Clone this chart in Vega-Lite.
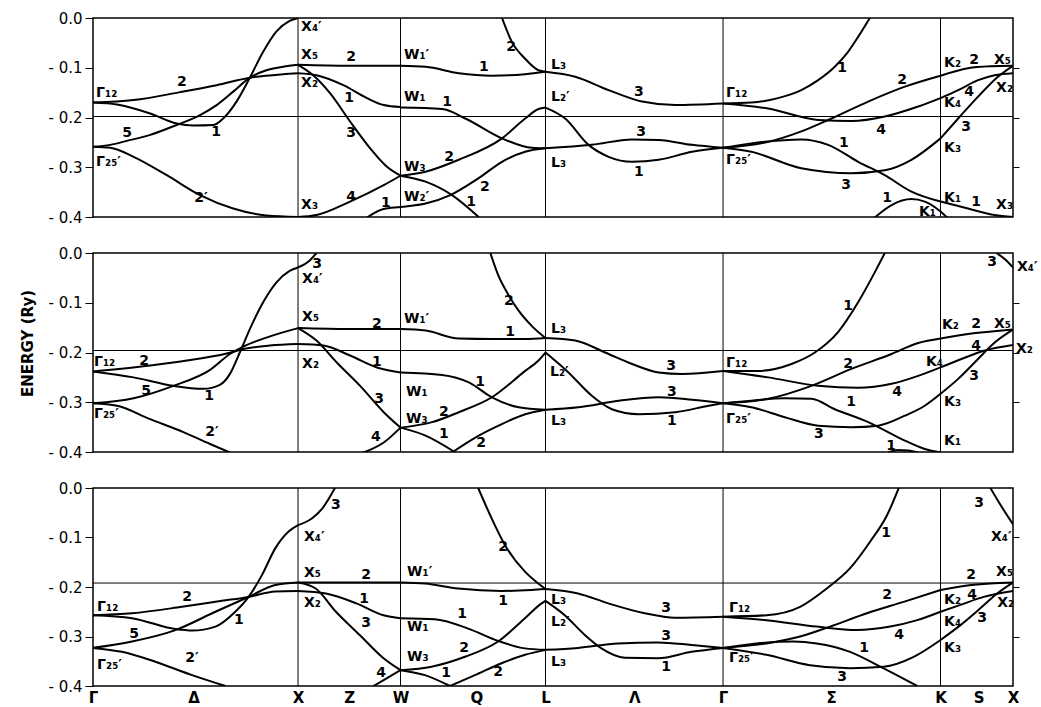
{
"$schema":"https://vega.github.io/schema/vega-lite/v6.json",
"background":"white",
"padding":{"left":20,"top":10,"right":0,"bottom":0},
"config":{"view":{"stroke":"black","strokeWidth":1.5},"concat":{"spacing":19}},
"datasets":{
"vl":[{"k":1},{"k":1.5},{"k":2.2071},{"k":3.0731},{"k":4.1338}],
"ef":[{"p":1,"e":-0.198},{"p":2,"e":-0.196},{"p":3,"e":-0.192}],
"bands":[
{"p":1,"b":"a","k":0,"e":-0.170},{"p":1,"b":"a","k":0.198,"e":-0.165},{"p":1,"b":"a","k":0.425,"e":-0.149},{"p":1,"b":"a","k":0.603,"e":-0.135},{"p":1,"b":"a","k":0.765,"e":-0.120},{"p":1,"b":"a","k":0.927,"e":-0.113},{"p":1,"b":"a","k":1,"e":-0.111},
{"p":1,"b":"b","k":0,"e":-0.170},{"p":1,"b":"b","k":0.117,"e":-0.174},{"p":1,"b":"b","k":0.279,"e":-0.192},{"p":1,"b":"b","k":0.408,"e":-0.212},{"p":1,"b":"b","k":0.489,"e":-0.216},{"p":1,"b":"b","k":0.587,"e":-0.215},{"p":1,"b":"b","k":0.635,"e":-0.202},{"p":1,"b":"b","k":0.700,"e":-0.168},{"p":1,"b":"b","k":0.765,"e":-0.120},{"p":1,"b":"b","k":0.830,"e":-0.068},{"p":1,"b":"b","k":0.895,"e":-0.027},{"p":1,"b":"b","k":0.959,"e":-0.006},{"p":1,"b":"b","k":1,"e":0},
{"p":1,"b":"c","k":0,"e":-0.259},{"p":1,"b":"c","k":0.084,"e":-0.255},{"p":1,"b":"c","k":0.165,"e":-0.247},{"p":1,"b":"c","k":0.279,"e":-0.235},{"p":1,"b":"c","k":0.408,"e":-0.215},{"p":1,"b":"c","k":0.522,"e":-0.195},{"p":1,"b":"c","k":0.603,"e":-0.175},{"p":1,"b":"c","k":0.684,"e":-0.148},{"p":1,"b":"c","k":0.765,"e":-0.120},{"p":1,"b":"c","k":0.846,"e":-0.105},{"p":1,"b":"c","k":0.927,"e":-0.098},{"p":1,"b":"c","k":1,"e":-0.094},
{"p":1,"b":"d","k":0,"e":-0.259},{"p":1,"b":"d","k":0.084,"e":-0.261},{"p":1,"b":"d","k":0.198,"e":-0.279},{"p":1,"b":"d","k":0.360,"e":-0.316},{"p":1,"b":"d","k":0.522,"e":-0.356},{"p":1,"b":"d","k":0.684,"e":-0.383},{"p":1,"b":"d","k":0.846,"e":-0.397},{"p":1,"b":"d","k":1,"e":-0.400},
{"p":1,"b":"e","k":1,"e":-0.094},{"p":1,"b":"e","k":1.25,"e":-0.096},{"p":1,"b":"e","k":1.5,"e":-0.096},
{"p":1,"b":"f","k":1,"e":-0.111},{"p":1,"b":"f","k":1.090,"e":-0.115},{"p":1,"b":"f","k":1.221,"e":-0.135},{"p":1,"b":"f","k":1.336,"e":-0.161},{"p":1,"b":"f","k":1.418,"e":-0.175},{"p":1,"b":"f","k":1.5,"e":-0.179},
{"p":1,"b":"g","k":1,"e":-0.094},{"p":1,"b":"g","k":1.074,"e":-0.115},{"p":1,"b":"g","k":1.156,"e":-0.151},{"p":1,"b":"g","k":1.254,"e":-0.208},{"p":1,"b":"g","k":1.352,"e":-0.262},{"p":1,"b":"g","k":1.434,"e":-0.299},{"p":1,"b":"g","k":1.5,"e":-0.317},
{"p":1,"b":"h","k":1,"e":-0.400},{"p":1,"b":"h","k":1.090,"e":-0.396},{"p":1,"b":"h","k":1.254,"e":-0.369},{"p":1,"b":"h","k":1.418,"e":-0.336},{"p":1,"b":"h","k":1.5,"e":-0.317},
{"p":1,"b":"i","k":1.336,"e":-0.401},{"p":1,"b":"i","k":1.418,"e":-0.384},{"p":1,"b":"i","k":1.5,"e":-0.380},{"p":1,"b":"i","k":1.622,"e":-0.373},{"p":1,"b":"i","k":1.743,"e":-0.356},{"p":1,"b":"i","k":1.881,"e":-0.322},{"p":1,"b":"i","k":1.995,"e":-0.289},{"p":1,"b":"i","k":2.108,"e":-0.269},{"p":1,"b":"i","k":2.207,"e":-0.262},
{"p":1,"b":"j","k":1.5,"e":-0.096},{"p":1,"b":"j","k":1.622,"e":-0.098},{"p":1,"b":"j","k":1.784,"e":-0.111},{"p":1,"b":"j","k":1.946,"e":-0.116},{"p":1,"b":"j","k":2.108,"e":-0.113},{"p":1,"b":"j","k":2.207,"e":-0.108},
{"p":1,"b":"k","k":1.995,"e":0},{"p":1,"b":"k","k":2.043,"e":-0.048},{"p":1,"b":"k","k":2.108,"e":-0.082},{"p":1,"b":"k","k":2.173,"e":-0.105},{"p":1,"b":"k","k":2.207,"e":-0.108},
{"p":1,"b":"l","k":1.5,"e":-0.180},{"p":1,"b":"l","k":1.703,"e":-0.183},{"p":1,"b":"l","k":1.816,"e":-0.202},{"p":1,"b":"l","k":1.995,"e":-0.242},{"p":1,"b":"l","k":2.141,"e":-0.261},{"p":1,"b":"l","k":2.207,"e":-0.262},
{"p":1,"b":"m","k":1.5,"e":-0.317},{"p":1,"b":"m","k":1.622,"e":-0.309},{"p":1,"b":"m","k":1.784,"e":-0.285},{"p":1,"b":"m","k":1.995,"e":-0.242},{"p":1,"b":"m","k":2.108,"e":-0.202},{"p":1,"b":"m","k":2.173,"e":-0.183},{"p":1,"b":"m","k":2.207,"e":-0.180},
{"p":1,"b":"n","k":1.5,"e":-0.317},{"p":1,"b":"n","k":1.622,"e":-0.329},{"p":1,"b":"n","k":1.751,"e":-0.356},{"p":1,"b":"n","k":1.881,"e":-0.400},
{"p":1,"b":"o","k":2.207,"e":-0.108},{"p":1,"b":"o","k":2.352,"e":-0.118},{"p":1,"b":"o","k":2.515,"e":-0.145},{"p":1,"b":"o","k":2.678,"e":-0.168},{"p":1,"b":"o","k":2.840,"e":-0.175},{"p":1,"b":"o","k":3.073,"e":-0.172},
{"p":1,"b":"q","k":2.207,"e":-0.180},{"p":1,"b":"q","k":2.303,"e":-0.202},{"p":1,"b":"q","k":2.417,"e":-0.255},{"p":1,"b":"q","k":2.515,"e":-0.279},{"p":1,"b":"q","k":2.629,"e":-0.289},{"p":1,"b":"q","k":2.759,"e":-0.285},{"p":1,"b":"q","k":2.922,"e":-0.269},{"p":1,"b":"q","k":3.073,"e":-0.261},
{"p":1,"b":"r","k":2.207,"e":-0.262},{"p":1,"b":"r","k":2.433,"e":-0.255},{"p":1,"b":"r","k":2.629,"e":-0.244},{"p":1,"b":"r","k":2.759,"e":-0.245},{"p":1,"b":"r","k":2.922,"e":-0.255},{"p":1,"b":"r","k":3.073,"e":-0.261},
{"p":1,"b":"s","k":3.073,"e":-0.172},{"p":1,"b":"s","k":3.211,"e":-0.170},{"p":1,"b":"s","k":3.341,"e":-0.161},{"p":1,"b":"s","k":3.455,"e":-0.145},{"p":1,"b":"s","k":3.537,"e":-0.125},{"p":1,"b":"s","k":3.618,"e":-0.098},{"p":1,"b":"s","k":3.683,"e":-0.068},{"p":1,"b":"s","k":3.732,"e":-0.038},{"p":1,"b":"s","k":3.789,"e":0},
{"p":1,"b":"t","k":3.073,"e":-0.172},{"p":1,"b":"t","k":3.293,"e":-0.182},{"p":1,"b":"t","k":3.537,"e":-0.205},{"p":1,"b":"t","k":3.699,"e":-0.207},{"p":1,"b":"t","k":3.862,"e":-0.198},{"p":1,"b":"t","k":4.025,"e":-0.178},{"p":1,"b":"t","k":4.134,"e":-0.161},
{"p":1,"b":"u","k":3.073,"e":-0.261},{"p":1,"b":"u","k":3.293,"e":-0.249},{"p":1,"b":"u","k":3.455,"e":-0.228},{"p":1,"b":"u","k":3.602,"e":-0.202},{"p":1,"b":"u","k":3.781,"e":-0.168},{"p":1,"b":"u","k":3.960,"e":-0.138},{"p":1,"b":"u","k":4.134,"e":-0.116},
{"p":1,"b":"v","k":3.073,"e":-0.261},{"p":1,"b":"v","k":3.211,"e":-0.252},{"p":1,"b":"v","k":3.455,"e":-0.244},{"p":1,"b":"v","k":3.586,"e":-0.255},{"p":1,"b":"v","k":3.732,"e":-0.289},{"p":1,"b":"v","k":3.862,"e":-0.316},{"p":1,"b":"v","k":3.992,"e":-0.349},{"p":1,"b":"v","k":4.134,"e":-0.369},
{"p":1,"b":"w","k":3.073,"e":-0.261},{"p":1,"b":"w","k":3.211,"e":-0.269},{"p":1,"b":"w","k":3.455,"e":-0.302},{"p":1,"b":"w","k":3.699,"e":-0.312},{"p":1,"b":"w","k":3.862,"e":-0.306},{"p":1,"b":"w","k":3.992,"e":-0.285},{"p":1,"b":"w","k":4.134,"e":-0.242},
{"p":1,"b":"x","k":3.813,"e":-0.401},{"p":1,"b":"x","k":3.895,"e":-0.376},{"p":1,"b":"x","k":3.992,"e":-0.364},{"p":1,"b":"x","k":4.057,"e":-0.369},{"p":1,"b":"x","k":4.134,"e":-0.389},{"p":1,"b":"x","k":4.171,"e":-0.403},
{"p":1,"b":"y","k":4.134,"e":-0.116},{"p":1,"b":"y","k":4.268,"e":-0.101},{"p":1,"b":"y","k":4.382,"e":-0.097},{"p":1,"b":"y","k":4.487,"e":-0.096},
{"p":1,"b":"z","k":4.134,"e":-0.161},{"p":1,"b":"z","k":4.220,"e":-0.145},{"p":1,"b":"z","k":4.317,"e":-0.125},{"p":1,"b":"z","k":4.398,"e":-0.115},{"p":1,"b":"z","k":4.487,"e":-0.111},
{"p":1,"b":"aa","k":4.134,"e":-0.242},{"p":1,"b":"aa","k":4.220,"e":-0.202},{"p":1,"b":"aa","k":4.317,"e":-0.158},{"p":1,"b":"aa","k":4.414,"e":-0.118},{"p":1,"b":"aa","k":4.487,"e":-0.096},
{"p":1,"b":"ab","k":4.134,"e":-0.369},{"p":1,"b":"ab","k":4.268,"e":-0.383},{"p":1,"b":"ab","k":4.398,"e":-0.396},{"p":1,"b":"ab","k":4.487,"e":-0.400},

{"p":2,"b":"a","k":0,"e":-0.238},{"p":2,"b":"a","k":0.279,"e":-0.226},{"p":2,"b":"a","k":0.522,"e":-0.212},{"p":2,"b":"a","k":0.652,"e":-0.202},{"p":2,"b":"a","k":0.733,"e":-0.193},{"p":2,"b":"a","k":0.862,"e":-0.186},{"p":2,"b":"a","k":1,"e":-0.183},
{"p":2,"b":"b","k":0,"e":-0.238},{"p":2,"b":"b","k":0.198,"e":-0.250},{"p":2,"b":"b","k":0.392,"e":-0.267},{"p":2,"b":"b","k":0.538,"e":-0.273},{"p":2,"b":"b","k":0.619,"e":-0.265},{"p":2,"b":"b","k":0.668,"e":-0.243},{"p":2,"b":"b","k":0.716,"e":-0.200},{"p":2,"b":"b","k":0.765,"e":-0.153},{"p":2,"b":"b","k":0.830,"e":-0.099},{"p":2,"b":"b","k":0.895,"e":-0.059},{"p":2,"b":"b","k":0.959,"e":-0.036},{"p":2,"b":"b","k":1,"e":-0.029},
{"p":2,"b":"c","k":0,"e":-0.302},{"p":2,"b":"c","k":0.198,"e":-0.292},{"p":2,"b":"c","k":0.392,"e":-0.267},{"p":2,"b":"c","k":0.571,"e":-0.235},{"p":2,"b":"c","k":0.668,"e":-0.203},{"p":2,"b":"c","k":0.733,"e":-0.188},{"p":2,"b":"c","k":0.846,"e":-0.170},{"p":2,"b":"c","k":1,"e":-0.151},
{"p":2,"b":"d","k":0,"e":-0.302},{"p":2,"b":"d","k":0.117,"e":-0.307},{"p":2,"b":"d","k":0.279,"e":-0.334},{"p":2,"b":"d","k":0.441,"e":-0.360},{"p":2,"b":"d","k":0.571,"e":-0.384},{"p":2,"b":"d","k":0.668,"e":-0.401},
{"p":2,"b":"e","k":1,"e":-0.029},{"p":2,"b":"e","k":1.057,"e":-0.015},{"p":2,"b":"e","k":1.090,"e":0},
{"p":2,"b":"f","k":1,"e":-0.151},{"p":2,"b":"f","k":1.25,"e":-0.153},{"p":2,"b":"f","k":1.5,"e":-0.153},
{"p":2,"b":"g","k":1,"e":-0.183},{"p":2,"b":"g","k":1.123,"e":-0.186},{"p":2,"b":"g","k":1.254,"e":-0.206},{"p":2,"b":"g","k":1.385,"e":-0.230},{"p":2,"b":"g","k":1.5,"e":-0.240},
{"p":2,"b":"h","k":1,"e":-0.151},{"p":2,"b":"h","k":1.090,"e":-0.176},{"p":2,"b":"h","k":1.189,"e":-0.220},{"p":2,"b":"h","k":1.303,"e":-0.267},{"p":2,"b":"h","k":1.418,"e":-0.320},{"p":2,"b":"h","k":1.5,"e":-0.351},
{"p":2,"b":"i","k":1.320,"e":-0.401},{"p":2,"b":"i","k":1.418,"e":-0.381},{"p":2,"b":"i","k":1.5,"e":-0.351},
{"p":2,"b":"j","k":1.5,"e":-0.153},{"p":2,"b":"j","k":1.622,"e":-0.156},{"p":2,"b":"j","k":1.784,"e":-0.172},{"p":2,"b":"j","k":1.946,"e":-0.173},{"p":2,"b":"j","k":2.108,"e":-0.173},{"p":2,"b":"j","k":2.207,"e":-0.171},
{"p":2,"b":"k","k":1.938,"e":0},{"p":2,"b":"k","k":1.978,"e":-0.046},{"p":2,"b":"k","k":2.019,"e":-0.079},{"p":2,"b":"k","k":2.076,"e":-0.116},{"p":2,"b":"k","k":2.141,"e":-0.147},{"p":2,"b":"k","k":2.207,"e":-0.171},
{"p":2,"b":"l","k":1.5,"e":-0.240},{"p":2,"b":"l","k":1.703,"e":-0.245},{"p":2,"b":"l","k":1.833,"e":-0.260},{"p":2,"b":"l","k":1.946,"e":-0.290},{"p":2,"b":"l","k":2.076,"e":-0.310},{"p":2,"b":"l","k":2.207,"e":-0.315},
{"p":2,"b":"m","k":1.5,"e":-0.351},{"p":2,"b":"m","k":1.654,"e":-0.340},{"p":2,"b":"m","k":1.784,"e":-0.320},{"p":2,"b":"m","k":1.946,"e":-0.290},{"p":2,"b":"m","k":2.108,"e":-0.237},{"p":2,"b":"m","k":2.173,"e":-0.216},{"p":2,"b":"m","k":2.207,"e":-0.200},
{"p":2,"b":"n","k":1.5,"e":-0.351},{"p":2,"b":"n","k":1.622,"e":-0.367},{"p":2,"b":"n","k":1.768,"e":-0.401},
{"p":2,"b":"o","k":1.751,"e":-0.401},{"p":2,"b":"o","k":1.865,"e":-0.371},{"p":2,"b":"o","k":1.978,"e":-0.347},{"p":2,"b":"o","k":2.108,"e":-0.324},{"p":2,"b":"o","k":2.207,"e":-0.315},
{"p":2,"b":"p","k":2.207,"e":-0.171},{"p":2,"b":"p","k":2.352,"e":-0.176},{"p":2,"b":"p","k":2.498,"e":-0.200},{"p":2,"b":"p","k":2.629,"e":-0.223},{"p":2,"b":"p","k":2.759,"e":-0.240},{"p":2,"b":"p","k":2.873,"e":-0.243},{"p":2,"b":"p","k":3.073,"e":-0.237},
{"p":2,"b":"q","k":2.207,"e":-0.200},{"p":2,"b":"q","k":2.319,"e":-0.240},{"p":2,"b":"q","k":2.433,"e":-0.287},{"p":2,"b":"q","k":2.531,"e":-0.314},{"p":2,"b":"q","k":2.661,"e":-0.324},{"p":2,"b":"q","k":2.840,"e":-0.320},{"p":2,"b":"q","k":3.003,"e":-0.307},{"p":2,"b":"q","k":3.073,"e":-0.302},
{"p":2,"b":"r","k":2.207,"e":-0.315},{"p":2,"b":"r","k":2.368,"e":-0.310},{"p":2,"b":"r","k":2.564,"e":-0.297},{"p":2,"b":"r","k":2.759,"e":-0.290},{"p":2,"b":"r","k":2.922,"e":-0.295},{"p":2,"b":"r","k":3.073,"e":-0.302},
{"p":2,"b":"s","k":3.073,"e":-0.237},{"p":2,"b":"s","k":3.244,"e":-0.237},{"p":2,"b":"s","k":3.407,"e":-0.223},{"p":2,"b":"s","k":3.521,"e":-0.200},{"p":2,"b":"s","k":3.634,"e":-0.159},{"p":2,"b":"s","k":3.732,"e":-0.099},{"p":2,"b":"s","k":3.813,"e":-0.039},{"p":2,"b":"s","k":3.862,"e":0},
{"p":2,"b":"t","k":3.073,"e":-0.237},{"p":2,"b":"t","k":3.293,"e":-0.250},{"p":2,"b":"t","k":3.537,"e":-0.267},{"p":2,"b":"t","k":3.732,"e":-0.271},{"p":2,"b":"t","k":3.895,"e":-0.263},{"p":2,"b":"t","k":4.025,"e":-0.247},{"p":2,"b":"t","k":4.134,"e":-0.230},
{"p":2,"b":"u","k":3.073,"e":-0.302},{"p":2,"b":"u","k":3.293,"e":-0.293},{"p":2,"b":"u","k":3.504,"e":-0.267},{"p":2,"b":"u","k":3.699,"e":-0.233},{"p":2,"b":"u","k":3.895,"e":-0.203},{"p":2,"b":"u","k":4.025,"e":-0.181},{"p":2,"b":"u","k":4.134,"e":-0.172},
{"p":2,"b":"v","k":3.073,"e":-0.302},{"p":2,"b":"v","k":3.211,"e":-0.297},{"p":2,"b":"v","k":3.374,"e":-0.292},{"p":2,"b":"v","k":3.504,"e":-0.293},{"p":2,"b":"v","k":3.618,"e":-0.314},{"p":2,"b":"v","k":3.781,"e":-0.340},{"p":2,"b":"v","k":3.944,"e":-0.374},{"p":2,"b":"v","k":4.057,"e":-0.394},{"p":2,"b":"v","k":4.134,"e":-0.401},
{"p":2,"b":"w","k":3.073,"e":-0.302},{"p":2,"b":"w","k":3.211,"e":-0.310},{"p":2,"b":"w","k":3.374,"e":-0.330},{"p":2,"b":"w","k":3.537,"e":-0.347},{"p":2,"b":"w","k":3.699,"e":-0.350},{"p":2,"b":"w","k":3.830,"e":-0.347},{"p":2,"b":"w","k":3.960,"e":-0.327},{"p":2,"b":"w","k":4.057,"e":-0.307},{"p":2,"b":"w","k":4.134,"e":-0.283},
{"p":2,"b":"x","k":3.878,"e":-0.401},{"p":2,"b":"x","k":3.927,"e":-0.396},{"p":2,"b":"x","k":3.976,"e":-0.397},{"p":2,"b":"x","k":4.025,"e":-0.401},
{"p":2,"b":"y","k":4.134,"e":-0.172},{"p":2,"b":"y","k":4.268,"e":-0.163},{"p":2,"b":"y","k":4.382,"e":-0.158},{"p":2,"b":"y","k":4.487,"e":-0.154},
{"p":2,"b":"z","k":4.134,"e":-0.230},{"p":2,"b":"z","k":4.236,"e":-0.213},{"p":2,"b":"z","k":4.350,"e":-0.196},{"p":2,"b":"z","k":4.487,"e":-0.185},
{"p":2,"b":"aa","k":4.134,"e":-0.283},{"p":2,"b":"aa","k":4.220,"e":-0.253},{"p":2,"b":"aa","k":4.317,"e":-0.213},{"p":2,"b":"aa","k":4.398,"e":-0.180},{"p":2,"b":"aa","k":4.487,"e":-0.154},
{"p":2,"b":"ab","k":4.406,"e":0},{"p":2,"b":"ab","k":4.447,"e":-0.012},{"p":2,"b":"ab","k":4.487,"e":-0.029},

{"p":3,"b":"a","k":0,"e":-0.257},{"p":3,"b":"a","k":0.190,"e":-0.253},{"p":3,"b":"a","k":0.434,"e":-0.240},{"p":3,"b":"a","k":0.629,"e":-0.228},{"p":3,"b":"a","k":0.759,"e":-0.220},{"p":3,"b":"a","k":0.889,"e":-0.209},{"p":3,"b":"a","k":1,"e":-0.208},
{"p":3,"b":"b","k":0,"e":-0.257},{"p":3,"b":"b","k":0.190,"e":-0.263},{"p":3,"b":"b","k":0.402,"e":-0.285},{"p":3,"b":"b","k":0.483,"e":-0.288},{"p":3,"b":"b","k":0.597,"e":-0.280},{"p":3,"b":"b","k":0.694,"e":-0.250},{"p":3,"b":"b","k":0.759,"e":-0.220},{"p":3,"b":"b","k":0.824,"e":-0.176},{"p":3,"b":"b","k":0.889,"e":-0.122},{"p":3,"b":"b","k":0.954,"e":-0.088},{"p":3,"b":"b","k":1,"e":-0.075},
{"p":3,"b":"c","k":1,"e":-0.075},{"p":3,"b":"c","k":1.069,"e":-0.061},{"p":3,"b":"c","k":1.119,"e":-0.041},{"p":3,"b":"c","k":1.18,"e":0},
{"p":3,"b":"d","k":0,"e":-0.323},{"p":3,"b":"d","k":0.190,"e":-0.310},{"p":3,"b":"d","k":0.402,"e":-0.287},{"p":3,"b":"d","k":0.597,"e":-0.250},{"p":3,"b":"d","k":0.759,"e":-0.220},{"p":3,"b":"d","k":0.889,"e":-0.196},{"p":3,"b":"d","k":1,"e":-0.191},
{"p":3,"b":"e","k":0,"e":-0.323},{"p":3,"b":"e","k":0.141,"e":-0.331},{"p":3,"b":"e","k":0.304,"e":-0.351},{"p":3,"b":"e","k":0.483,"e":-0.378},{"p":3,"b":"e","k":0.646,"e":-0.400},
{"p":3,"b":"f","k":1,"e":-0.191},{"p":3,"b":"f","k":1.25,"e":-0.191},{"p":3,"b":"f","k":1.5,"e":-0.191},
{"p":3,"b":"g","k":1,"e":-0.208},{"p":3,"b":"g","k":1.136,"e":-0.213},{"p":3,"b":"g","k":1.285,"e":-0.233},{"p":3,"b":"g","k":1.417,"e":-0.257},{"p":3,"b":"g","k":1.5,"e":-0.263},
{"p":3,"b":"h","k":1,"e":-0.191},{"p":3,"b":"h","k":1.086,"e":-0.203},{"p":3,"b":"h","k":1.185,"e":-0.250},{"p":3,"b":"h","k":1.301,"e":-0.297},{"p":3,"b":"h","k":1.417,"e":-0.344},{"p":3,"b":"h","k":1.5,"e":-0.368},
{"p":3,"b":"i","k":1.368,"e":-0.400},{"p":3,"b":"i","k":1.434,"e":-0.384},{"p":3,"b":"i","k":1.5,"e":-0.368},
{"p":3,"b":"j","k":1.5,"e":-0.191},{"p":3,"b":"j","k":1.619,"e":-0.193},{"p":3,"b":"j","k":1.781,"e":-0.203},{"p":3,"b":"j","k":1.993,"e":-0.208},{"p":3,"b":"j","k":2.139,"e":-0.206},{"p":3,"b":"j","k":2.207,"e":-0.204},
{"p":3,"b":"k","k":1.879,"e":0},{"p":3,"b":"k","k":1.944,"e":-0.061},{"p":3,"b":"k","k":2.009,"e":-0.115},{"p":3,"b":"k","k":2.107,"e":-0.169},{"p":3,"b":"k","k":2.172,"e":-0.193},{"p":3,"b":"k","k":2.207,"e":-0.204},
{"p":3,"b":"l","k":1.5,"e":-0.263},{"p":3,"b":"l","k":1.667,"e":-0.265},{"p":3,"b":"l","k":1.830,"e":-0.284},{"p":3,"b":"l","k":1.976,"e":-0.309},{"p":3,"b":"l","k":2.107,"e":-0.324},{"p":3,"b":"l","k":2.207,"e":-0.327},
{"p":3,"b":"m","k":1.5,"e":-0.368},{"p":3,"b":"m","k":1.651,"e":-0.361},{"p":3,"b":"m","k":1.814,"e":-0.341},{"p":3,"b":"m","k":1.976,"e":-0.310},{"p":3,"b":"m","k":2.107,"e":-0.263},{"p":3,"b":"m","k":2.188,"e":-0.233},{"p":3,"b":"m","k":2.207,"e":-0.228},
{"p":3,"b":"n","k":1.5,"e":-0.368},{"p":3,"b":"n","k":1.619,"e":-0.378},{"p":3,"b":"n","k":1.741,"e":-0.400},
{"p":3,"b":"o","k":1.741,"e":-0.400},{"p":3,"b":"o","k":1.863,"e":-0.378},{"p":3,"b":"o","k":1.993,"e":-0.354},{"p":3,"b":"o","k":2.107,"e":-0.337},{"p":3,"b":"o","k":2.207,"e":-0.327},
{"p":3,"b":"p","k":2.207,"e":-0.204},{"p":3,"b":"p","k":2.366,"e":-0.213},{"p":3,"b":"p","k":2.513,"e":-0.233},{"p":3,"b":"p","k":2.691,"e":-0.253},{"p":3,"b":"p","k":2.838,"e":-0.262},{"p":3,"b":"p","k":3.073,"e":-0.260},
{"p":3,"b":"q","k":2.207,"e":-0.228},{"p":3,"b":"q","k":2.301,"e":-0.257},{"p":3,"b":"q","k":2.399,"e":-0.297},{"p":3,"b":"q","k":2.480,"e":-0.324},{"p":3,"b":"q","k":2.594,"e":-0.343},{"p":3,"b":"q","k":2.756,"e":-0.344},{"p":3,"b":"q","k":2.919,"e":-0.331},{"p":3,"b":"q","k":3.073,"e":-0.323},
{"p":3,"b":"r","k":2.207,"e":-0.327},{"p":3,"b":"r","k":2.366,"e":-0.323},{"p":3,"b":"r","k":2.561,"e":-0.314},{"p":3,"b":"r","k":2.756,"e":-0.312},{"p":3,"b":"r","k":2.919,"e":-0.317},{"p":3,"b":"r","k":3.073,"e":-0.323},
{"p":3,"b":"s","k":3.073,"e":-0.260},{"p":3,"b":"s","k":3.285,"e":-0.257},{"p":3,"b":"s","k":3.449,"e":-0.240},{"p":3,"b":"s","k":3.579,"e":-0.203},{"p":3,"b":"s","k":3.693,"e":-0.162},{"p":3,"b":"s","k":3.791,"e":-0.108},{"p":3,"b":"s","k":3.873,"e":-0.055},{"p":3,"b":"s","k":3.930,"e":0},
{"p":3,"b":"t","k":3.073,"e":-0.260},{"p":3,"b":"t","k":3.285,"e":-0.267},{"p":3,"b":"t","k":3.530,"e":-0.280},{"p":3,"b":"t","k":3.726,"e":-0.287},{"p":3,"b":"t","k":3.889,"e":-0.280},{"p":3,"b":"t","k":4.020,"e":-0.267},{"p":3,"b":"t","k":4.134,"e":-0.250},
{"p":3,"b":"u","k":3.073,"e":-0.323},{"p":3,"b":"u","k":3.285,"e":-0.314},{"p":3,"b":"u","k":3.449,"e":-0.300},{"p":3,"b":"u","k":3.595,"e":-0.280},{"p":3,"b":"u","k":3.775,"e":-0.253},{"p":3,"b":"u","k":3.954,"e":-0.230},{"p":3,"b":"u","k":4.134,"e":-0.206},
{"p":3,"b":"v","k":3.073,"e":-0.323},{"p":3,"b":"v","k":3.236,"e":-0.314},{"p":3,"b":"v","k":3.416,"e":-0.310},{"p":3,"b":"v","k":3.530,"e":-0.314},{"p":3,"b":"v","k":3.693,"e":-0.331},{"p":3,"b":"v","k":3.840,"e":-0.361},{"p":3,"b":"v","k":4.020,"e":-0.400},
{"p":3,"b":"w","k":3.073,"e":-0.323},{"p":3,"b":"w","k":3.285,"e":-0.337},{"p":3,"b":"w","k":3.497,"e":-0.358},{"p":3,"b":"w","k":3.693,"e":-0.364},{"p":3,"b":"w","k":3.856,"e":-0.361},{"p":3,"b":"w","k":4.003,"e":-0.341},{"p":3,"b":"w","k":4.134,"e":-0.307},
{"p":3,"b":"y","k":4.134,"e":-0.206},{"p":3,"b":"y","k":4.264,"e":-0.197},{"p":3,"b":"y","k":4.377,"e":-0.193},{"p":3,"b":"y","k":4.487,"e":-0.191},
{"p":3,"b":"z","k":4.134,"e":-0.250},{"p":3,"b":"z","k":4.231,"e":-0.236},{"p":3,"b":"z","k":4.345,"e":-0.220},{"p":3,"b":"z","k":4.487,"e":-0.208},
{"p":3,"b":"aa","k":4.134,"e":-0.307},{"p":3,"b":"aa","k":4.231,"e":-0.277},{"p":3,"b":"aa","k":4.328,"e":-0.243},{"p":3,"b":"aa","k":4.410,"e":-0.213},{"p":3,"b":"aa","k":4.487,"e":-0.191},
{"p":3,"b":"ab","k":4.377,"e":0},{"p":3,"b":"ab","k":4.426,"e":-0.034},{"p":3,"b":"ab","k":4.487,"e":-0.073}
],
"sym":[
{"p":1,"k":0.015,"e":-0.151,"t":"Γ₁₂"},{"p":1,"k":0.015,"e":-0.289,"t":"Γ₂₅′"},{"p":1,"k":1.015,"e":-0.018,"t":"X₄′"},{"p":1,"k":1.015,"e":-0.074,"t":"X₅"},{"p":1,"k":1.015,"e":-0.131,"t":"X₂"},{"p":1,"k":1.015,"e":-0.376,"t":"X₃"},
{"p":1,"k":1.517,"e":-0.074,"t":"W₁′"},{"p":1,"k":1.517,"e":-0.159,"t":"W₁"},{"p":1,"k":1.517,"e":-0.300,"t":"W₃"},{"p":1,"k":1.517,"e":-0.360,"t":"W₂′"},
{"p":1,"k":2.234,"e":-0.094,"t":"L₃"},{"p":1,"k":2.234,"e":-0.159,"t":"L₂′"},{"p":1,"k":2.234,"e":-0.291,"t":"L₃"},
{"p":1,"k":3.088,"e":-0.151,"t":"Γ₁₂"},{"p":1,"k":3.088,"e":-0.285,"t":"Γ₂₅′"},
{"p":1,"k":4.151,"e":-0.090,"t":"K₂"},{"p":1,"k":4.151,"e":-0.171,"t":"K₄"},{"p":1,"k":4.151,"e":-0.261,"t":"K₃"},{"p":1,"k":4.151,"e":-0.362,"t":"K₁"},{"p":1,"k":4.029,"e":-0.390,"t":"K₁"},
{"p":1,"k":4.395,"e":-0.084,"t":"X₅"},{"p":1,"k":4.405,"e":-0.141,"t":"X₂"},{"p":1,"k":4.405,"e":-0.376,"t":"X₃"},
{"p":2,"k":0.005,"e":-0.219,"t":"Γ₁₂"},{"p":2,"k":0.005,"e":-0.324,"t":"Γ₂₅′"},{"p":2,"k":1.020,"e":-0.052,"t":"X₄′"},{"p":2,"k":1.020,"e":-0.129,"t":"X₅"},{"p":2,"k":1.020,"e":-0.223,"t":"X₂"},
{"p":2,"k":1.517,"e":-0.133,"t":"W₁′"},{"p":2,"k":1.527,"e":-0.279,"t":"W₁"},{"p":2,"k":1.527,"e":-0.334,"t":"W₃"},
{"p":2,"k":2.234,"e":-0.153,"t":"L₃"},{"p":2,"k":2.229,"e":-0.239,"t":"L₂′"},{"p":2,"k":2.234,"e":-0.338,"t":"L₃"},
{"p":2,"k":3.088,"e":-0.221,"t":"Γ₁₂"},{"p":2,"k":3.088,"e":-0.334,"t":"Γ₂₅′"},
{"p":2,"k":4.141,"e":-0.145,"t":"K₂"},{"p":2,"k":4.063,"e":-0.219,"t":"K₄"},{"p":2,"k":4.151,"e":-0.299,"t":"K₃"},{"p":2,"k":4.151,"e":-0.378,"t":"K₁"},
{"p":2,"k":4.395,"e":-0.143,"t":"X₅"},{"p":2,"k":4.502,"e":-0.193,"t":"X₂"},{"p":2,"k":4.507,"e":-0.028,"t":"X₄′"},
{"p":3,"k":0.020,"e":-0.240,"t":"Γ₁₂"},{"p":3,"k":0.020,"e":-0.358,"t":"Γ₂₅′"},{"p":3,"k":1.029,"e":-0.099,"t":"X₄′"},{"p":3,"k":1.029,"e":-0.172,"t":"X₅"},{"p":3,"k":1.029,"e":-0.232,"t":"X₂"},
{"p":3,"k":1.532,"e":-0.170,"t":"W₁′"},{"p":3,"k":1.532,"e":-0.281,"t":"W₁"},{"p":3,"k":1.532,"e":-0.341,"t":"W₃"},
{"p":3,"k":2.234,"e":-0.226,"t":"L₃"},{"p":3,"k":2.234,"e":-0.271,"t":"L₂′"},{"p":3,"k":2.234,"e":-0.352,"t":"L₃"},
{"p":3,"k":3.102,"e":-0.242,"t":"Γ₁₂"},{"p":3,"k":3.102,"e":-0.343,"t":"Γ₂₅′"},
{"p":3,"k":4.151,"e":-0.226,"t":"K₂"},{"p":3,"k":4.151,"e":-0.271,"t":"K₄"},{"p":3,"k":4.151,"e":-0.323,"t":"K₃"},
{"p":3,"k":4.380,"e":-0.099,"t":"X₄′"},{"p":3,"k":4.405,"e":-0.170,"t":"X₅"},{"p":3,"k":4.41,"e":-0.232,"t":"X₂"}
],
"num":[
{"p":1,"k":0.166,"e":-0.231,"t":"5"},{"p":1,"k":0.434,"e":-0.129,"t":"2"},{"p":1,"k":0.600,"e":-0.229,"t":"1"},{"p":1,"k":0.527,"e":-0.362,"t":"2′"},
{"p":1,"k":1.259,"e":-0.078,"t":"2"},{"p":1,"k":1.249,"e":-0.161,"t":"1"},{"p":1,"k":1.259,"e":-0.231,"t":"3"},{"p":1,"k":1.259,"e":-0.360,"t":"4"},{"p":1,"k":1.429,"e":-0.372,"t":"1"},
{"p":1,"k":1.727,"e":-0.169,"t":"1"},{"p":1,"k":1.907,"e":-0.098,"t":"1"},{"p":1,"k":2.039,"e":-0.058,"t":"2"},{"p":1,"k":1.737,"e":-0.279,"t":"2"},{"p":1,"k":1.912,"e":-0.340,"t":"2"},{"p":1,"k":1.844,"e":-0.370,"t":"1"},
{"p":1,"k":2.663,"e":-0.149,"t":"3"},{"p":1,"k":2.673,"e":-0.229,"t":"3"},{"p":1,"k":2.663,"e":-0.309,"t":"1"},
{"p":1,"k":3.654,"e":-0.100,"t":"1"},{"p":1,"k":3.946,"e":-0.125,"t":"2"},{"p":1,"k":3.844,"e":-0.225,"t":"4"},{"p":1,"k":3.663,"e":-0.251,"t":"1"},{"p":1,"k":3.673,"e":-0.336,"t":"3"},{"p":1,"k":3.873,"e":-0.362,"t":"1"},
{"p":1,"k":4.298,"e":-0.084,"t":"2"},{"p":1,"k":4.273,"e":-0.149,"t":"4"},{"p":1,"k":4.259,"e":-0.219,"t":"3"},{"p":1,"k":4.307,"e":-0.370,"t":"1"},
{"p":2,"k":0.249,"e":-0.217,"t":"2"},{"p":2,"k":0.259,"e":-0.277,"t":"5"},{"p":2,"k":0.566,"e":-0.287,"t":"1"},{"p":2,"k":0.580,"e":-0.360,"t":"2′"},
{"p":2,"k":1.093,"e":-0.022,"t":"3"},{"p":2,"k":1.385,"e":-0.143,"t":"2"},{"p":2,"k":1.385,"e":-0.219,"t":"1"},{"p":2,"k":1.395,"e":-0.293,"t":"3"},{"p":2,"k":1.380,"e":-0.370,"t":"4"},
{"p":2,"k":2.034,"e":-0.159,"t":"1"},{"p":2,"k":2.029,"e":-0.096,"t":"2"},{"p":2,"k":1.888,"e":-0.259,"t":"1"},{"p":2,"k":1.712,"e":-0.320,"t":"2"},{"p":2,"k":1.712,"e":-0.364,"t":"1"},{"p":2,"k":1.893,"e":-0.382,"t":"2"},
{"p":2,"k":2.820,"e":-0.227,"t":"3"},{"p":2,"k":2.824,"e":-0.279,"t":"3"},{"p":2,"k":2.824,"e":-0.338,"t":"1"},
{"p":2,"k":3.683,"e":-0.107,"t":"1"},{"p":2,"k":3.683,"e":-0.223,"t":"2"},{"p":2,"k":3.922,"e":-0.279,"t":"4"},{"p":2,"k":3.698,"e":-0.299,"t":"1"},{"p":2,"k":3.541,"e":-0.364,"t":"3"},{"p":2,"k":3.893,"e":-0.388,"t":"1"},
{"p":2,"k":4.307,"e":-0.143,"t":"2"},{"p":2,"k":4.307,"e":-0.187,"t":"4"},{"p":2,"k":4.385,"e":-0.018,"t":"3"},{"p":2,"k":4.298,"e":-0.247,"t":"3"},
{"p":3,"k":0.459,"e":-0.220,"t":"2"},{"p":3,"k":0.200,"e":-0.295,"t":"5"},{"p":3,"k":0.712,"e":-0.267,"t":"1"},{"p":3,"k":0.483,"e":-0.343,"t":"2′"},
{"p":3,"k":1.185,"e":-0.034,"t":"3"},{"p":3,"k":1.332,"e":-0.176,"t":"2"},{"p":3,"k":1.322,"e":-0.224,"t":"1"},{"p":3,"k":1.332,"e":-0.273,"t":"3"},{"p":3,"k":1.405,"e":-0.374,"t":"4"},
{"p":3,"k":2.000,"e":-0.119,"t":"2"},{"p":3,"k":2.000,"e":-0.228,"t":"1"},{"p":3,"k":1.800,"e":-0.255,"t":"1"},{"p":3,"k":1.810,"e":-0.323,"t":"2"},{"p":3,"k":1.722,"e":-0.374,"t":"1"},{"p":3,"k":1.976,"e":-0.372,"t":"2"},
{"p":3,"k":2.795,"e":-0.242,"t":"3"},{"p":3,"k":2.795,"e":-0.299,"t":"3"},{"p":3,"k":2.795,"e":-0.362,"t":"1"},
{"p":3,"k":3.868,"e":-0.091,"t":"1"},{"p":3,"k":3.873,"e":-0.216,"t":"2"},{"p":3,"k":3.932,"e":-0.297,"t":"4"},{"p":3,"k":3.761,"e":-0.323,"t":"1"},{"p":3,"k":3.654,"e":-0.382,"t":"3"},
{"p":3,"k":4.322,"e":-0.030,"t":"3"},{"p":3,"k":4.283,"e":-0.176,"t":"2"},{"p":3,"k":4.288,"e":-0.216,"t":"4"},{"p":3,"k":4.337,"e":-0.263,"t":"3"}
]
},
"vconcat":[
{"width":920,"height":199,
 "layer":[
  {"data":{"name":"vl"},"mark":{"type":"rule","color":"black","strokeWidth":1},"encoding":{"x":{"field":"k","type":"quantitative","scale":{"domain":[0,4.4874],"nice":false,"zero":false},"axis":null}}},
  {"data":{"name":"ef"},"transform":[{"filter":"datum.p==1"}],"mark":{"type":"rule","color":"black","strokeWidth":1},"encoding":{"y":{"field":"e","type":"quantitative","scale":{"domain":[-0.4,0],"nice":false,"zero":false},"axis":{"orient":"right","values":[-0.1,-0.2,-0.3],"labels":false,"domain":false,"grid":false,"tickSize":6,"tickColor":"black","title":null}}}},
  {"data":{"name":"bands"},"transform":[{"filter":"datum.p==1"}],"mark":{"type":"line","interpolate":"monotone","color":"black","strokeWidth":2,"clip":true},"encoding":{"x":{"field":"k","type":"quantitative","scale":{"domain":[0,4.4874],"nice":false,"zero":false},"axis":null},"y":{"field":"e","type":"quantitative","scale":{"domain":[-0.4,0],"nice":false,"zero":false},"axis":{"values":[0,-0.1,-0.2,-0.3,-0.4],"labelExpr":"datum.value == 0 ? '0.0' : '- ' + format(-datum.value, '.1f')","labelFont":"DejaVu Sans","labelFontSize":15,"labelColor":"black","tickSize":8,"tickColor":"black","domain":false,"grid":false,"labelPadding":3,"labelFlush":false,"labelOverlap":false,"labelBound":false,"title":null}},"detail":{"field":"b"}}},
  {"data":{"name":"sym"},"transform":[{"filter":"datum.p==1"}],"mark":{"type":"text","align":"left","baseline":"middle","font":"DejaVu Sans","fontSize":14,"fontWeight":"bold","color":"black"},"encoding":{"x":{"field":"k","type":"quantitative","axis":null},"y":{"field":"e","type":"quantitative","axis":null},"text":{"field":"t"}}},
  {"data":{"name":"num"},"transform":[{"filter":"datum.p==1"}],"mark":{"type":"text","align":"center","baseline":"middle","font":"DejaVu Sans","fontSize":14,"fontWeight":"bold","color":"black"},"encoding":{"x":{"field":"k","type":"quantitative","axis":null},"y":{"field":"e","type":"quantitative","axis":null},"text":{"field":"t"}}}
 ],
 "resolve":{"axis":{"y":"independent"}}
},
{"width":920,"height":199,
 "layer":[
  {"data":{"name":"vl"},"mark":{"type":"rule","color":"black","strokeWidth":1},"encoding":{"x":{"field":"k","type":"quantitative","scale":{"domain":[0,4.4874],"nice":false,"zero":false},"axis":null}}},
  {"data":{"name":"ef"},"transform":[{"filter":"datum.p==2"}],"mark":{"type":"rule","color":"black","strokeWidth":1},"encoding":{"y":{"field":"e","type":"quantitative","scale":{"domain":[-0.4,0],"nice":false,"zero":false},"axis":{"orient":"right","values":[-0.1,-0.2,-0.3],"labels":false,"domain":false,"grid":false,"tickSize":6,"tickColor":"black","title":null}}}},
  {"data":{"name":"bands"},"transform":[{"filter":"datum.p==2"}],"mark":{"type":"line","interpolate":"monotone","color":"black","strokeWidth":2,"clip":true},"encoding":{"x":{"field":"k","type":"quantitative","scale":{"domain":[0,4.4874],"nice":false,"zero":false},"axis":null},"y":{"field":"e","type":"quantitative","scale":{"domain":[-0.4,0],"nice":false,"zero":false},"axis":{"values":[0,-0.1,-0.2,-0.3,-0.4],"labelExpr":"datum.value == 0 ? '0.0' : '- ' + format(-datum.value, '.1f')","labelFont":"DejaVu Sans","labelFontSize":15,"labelColor":"black","tickSize":8,"tickColor":"black","domain":false,"grid":false,"labelPadding":3,"labelFlush":false,"labelOverlap":false,"labelBound":false,"title":"ENERGY (Ry)","titleFont":"DejaVu Sans","titleFontSize":15,"titleFontWeight":"bold","titleColor":"black","titlePadding":12,"titleY":90}},"detail":{"field":"b"}}},
  {"data":{"name":"sym"},"transform":[{"filter":"datum.p==2"}],"mark":{"type":"text","align":"left","baseline":"middle","font":"DejaVu Sans","fontSize":14,"fontWeight":"bold","color":"black"},"encoding":{"x":{"field":"k","type":"quantitative","axis":null},"y":{"field":"e","type":"quantitative","axis":null},"text":{"field":"t"}}},
  {"data":{"name":"num"},"transform":[{"filter":"datum.p==2"}],"mark":{"type":"text","align":"center","baseline":"middle","font":"DejaVu Sans","fontSize":14,"fontWeight":"bold","color":"black"},"encoding":{"x":{"field":"k","type":"quantitative","axis":null},"y":{"field":"e","type":"quantitative","axis":null},"text":{"field":"t"}}}
 ],
 "resolve":{"axis":{"y":"independent"}}
},
{"width":920,"height":198,
 "layer":[
  {"data":{"name":"vl"},"mark":{"type":"rule","color":"black","strokeWidth":1},"encoding":{"x":{"field":"k","type":"quantitative","scale":{"domain":[0,4.4874],"nice":false,"zero":false}}}},
  {"data":{"name":"ef"},"transform":[{"filter":"datum.p==3"}],"mark":{"type":"rule","color":"black","strokeWidth":1},"encoding":{"y":{"field":"e","type":"quantitative","scale":{"domain":[-0.4,0],"nice":false,"zero":false},"axis":{"orient":"right","values":[-0.1,-0.2,-0.3],"labels":false,"domain":false,"grid":false,"tickSize":6,"tickColor":"black","title":null}}}},
  {"data":{"name":"bands"},"transform":[{"filter":"datum.p==3"}],"mark":{"type":"line","interpolate":"monotone","color":"black","strokeWidth":2,"clip":true},"encoding":{"x":{"field":"k","type":"quantitative","scale":{"domain":[0,4.4874],"nice":false,"zero":false},"axis":{"values":[0,0.49,1,1.25,1.5,1.87,2.2071,2.64,3.0731,3.6,4.1338,4.32,4.4874],"labelExpr":"['Γ','Δ','X','Z','W','Q','L','Λ','Γ','Σ','K','S','X'][indexof([0,0.49,1,1.25,1.5,1.87,2.2071,2.64,3.0731,3.6,4.1338,4.32,4.4874], datum.value)]","labelFont":"DejaVu Sans","labelFontSize":15,"labelFontWeight":"bold","labelColor":"black","ticks":false,"domain":false,"grid":false,"labelPadding":4,"labelFlush":false,"labelOverlap":false,"labelBound":false,"title":null}},"y":{"field":"e","type":"quantitative","scale":{"domain":[-0.4,0],"nice":false,"zero":false},"axis":{"values":[0,-0.1,-0.2,-0.3,-0.4],"labelExpr":"datum.value == 0 ? '0.0' : '- ' + format(-datum.value, '.1f')","labelFont":"DejaVu Sans","labelFontSize":15,"labelColor":"black","tickSize":8,"tickColor":"black","domain":false,"grid":false,"labelPadding":3,"labelFlush":false,"labelOverlap":false,"labelBound":false,"title":null}},"detail":{"field":"b"}}},
  {"data":{"name":"sym"},"transform":[{"filter":"datum.p==3"}],"mark":{"type":"text","align":"left","baseline":"middle","font":"DejaVu Sans","fontSize":14,"fontWeight":"bold","color":"black"},"encoding":{"x":{"field":"k","type":"quantitative"},"y":{"field":"e","type":"quantitative","axis":null},"text":{"field":"t"}}},
  {"data":{"name":"num"},"transform":[{"filter":"datum.p==3"}],"mark":{"type":"text","align":"center","baseline":"middle","font":"DejaVu Sans","fontSize":14,"fontWeight":"bold","color":"black"},"encoding":{"x":{"field":"k","type":"quantitative"},"y":{"field":"e","type":"quantitative","axis":null},"text":{"field":"t"}}}
 ],
 "resolve":{"axis":{"y":"independent"}}
}
]
}
